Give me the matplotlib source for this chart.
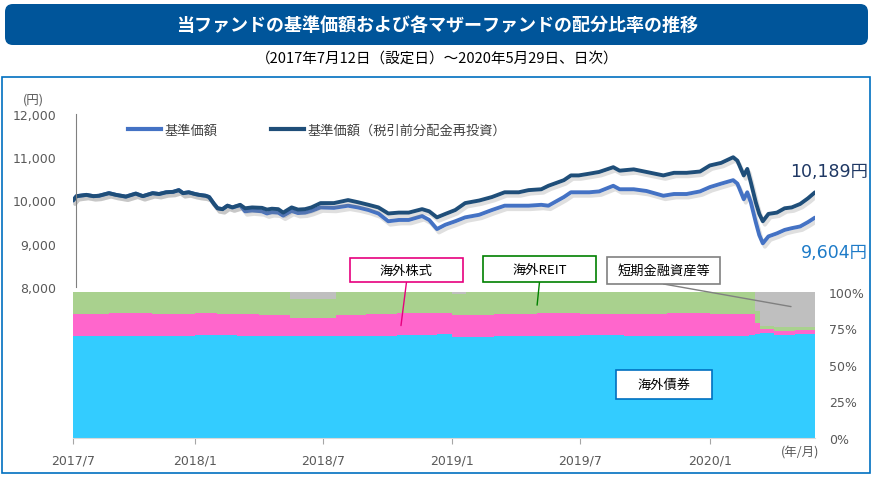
import pandas as pd
import matplotlib.pyplot as plt
import matplotlib.dates as mdates
import matplotlib.patheffects as pe
from matplotlib.patches import FancyBboxPatch, Rectangle, ConnectionPatch
from matplotlib.lines import Line2D

plt.rcParams['font.family'] = ['DejaVu Sans', 'Noto Sans CJK JP']
JP = ['Noto Sans CJK JP', 'DejaVu Sans']

# 基準価額データ（目視で読み取り）
price_dates = [
    '2017-07-12', '2017-07-17', '2017-07-31', '2017-08-10', '2017-08-18', '2017-09-01',
    '2017-09-11', '2017-09-25', '2017-10-09', '2017-10-19', '2017-11-02', '2017-11-11',
    '2017-11-21', '2017-12-01', '2017-12-09', '2017-12-15', '2017-12-23', '2018-01-01',
    '2018-01-07', '2018-01-16', '2018-01-21', '2018-01-28', '2018-02-02', '2018-02-09',
    '2018-02-16', '2018-02-23', '2018-03-06', '2018-03-13', '2018-03-23', '2018-04-06',
    '2018-04-13', '2018-04-20', '2018-04-29', '2018-05-06', '2018-05-18', '2018-05-27',
    '2018-06-06', '2018-06-15', '2018-06-28', '2018-07-17', '2018-08-06', '2018-08-20',
    '2018-09-04', '2018-09-18', '2018-10-02', '2018-10-17', '2018-10-31', '2018-11-19',
    '2018-11-29', '2018-12-10', '2018-12-22', '2019-01-05', '2019-01-19', '2019-02-08',
    '2019-02-26', '2019-03-16', '2019-04-05', '2019-04-19', '2019-05-07', '2019-05-17',
    '2019-06-08', '2019-06-18', '2019-06-29', '2019-07-14', '2019-07-28', '2019-08-17',
    '2019-08-26', '2019-09-15', '2019-10-03', '2019-10-27', '2019-11-11', '2019-11-29',
    '2019-12-18', '2020-01-01', '2020-01-17', '2020-02-03', '2020-02-09', '2020-02-14',
    '2020-02-18', '2020-02-23', '2020-02-28', '2020-03-06', '2020-03-11', '2020-03-16',
    '2020-03-24', '2020-04-05', '2020-04-16', '2020-04-26', '2020-05-08', '2020-05-19',
    '2020-05-29']
nav_reinvest = [
    10000, 10100, 10130, 10100, 10110, 10170,
    10130, 10090, 10160, 10100, 10170, 10150,
    10190, 10200, 10240, 10170, 10190, 10150,
    10130, 10110, 10080, 9920, 9820, 9800,
    9880, 9840, 9900, 9820, 9840, 9830,
    9790, 9810, 9800, 9720, 9840, 9790,
    9800, 9840, 9940, 9940, 10010, 9960,
    9900, 9840, 9700, 9720, 9720, 9800,
    9750, 9610, 9690, 9780, 9940, 10000,
    10080, 10190, 10190, 10240, 10260, 10340,
    10470, 10580, 10580, 10620, 10660, 10770,
    10690, 10720, 10660, 10580, 10640, 10640,
    10670, 10810, 10870, 11000, 10920, 10730,
    10580, 10730, 10420, 9960, 9690, 9520,
    9690, 9720, 9820, 9840, 9920, 10050,
    10189]
nav = [
    10000, 10100, 10130, 10100, 10110, 10170,
    10130, 10090, 10160, 10100, 10170, 10150,
    10190, 10200, 10240, 10170, 10190, 10150,
    10130, 10110, 10080, 9920, 9820, 9800,
    9880, 9840, 9890, 9750, 9770, 9750,
    9700, 9730, 9720, 9650, 9760, 9710,
    9720, 9760, 9840, 9830, 9880, 9840,
    9780, 9700, 9520, 9550, 9550, 9640,
    9550, 9340, 9440, 9520, 9610, 9670,
    9780, 9880, 9880, 9880, 9900, 9880,
    10080, 10190, 10190, 10190, 10210, 10340,
    10260, 10260, 10220, 10110, 10150, 10150,
    10210, 10310, 10390, 10470, 10390, 10190,
    10030, 10190, 9960, 9500, 9200, 9010,
    9170, 9240, 9320, 9360, 9400, 9500,
    9604]

# 配分比率（%）
alloc_dates = [
    '2017-07-12', '2017-09-01', '2017-11-01', '2018-01-01', '2018-02-01', '2018-03-01',
    '2018-04-01', '2018-05-15', '2018-06-15', '2018-07-20', '2018-09-01', '2018-10-15',
    '2018-12-10', '2019-01-01', '2019-01-20', '2019-03-01', '2019-05-01', '2019-07-01',
    '2019-09-01', '2019-11-01', '2020-01-01', '2020-02-25', '2020-03-05', '2020-03-12',
    '2020-04-01', '2020-05-01', '2020-05-29']
bond = [70, 70, 70, 70.5, 70.5, 70, 70, 70, 70, 70, 70, 70.5, 71.5, 69.5, 69.5,
        70, 70, 70.5, 70, 70, 70, 70.5, 71, 72, 70.5, 71, 71]
equity = [15, 15.5, 15, 15, 14.5, 15, 14.5, 12, 12.5, 14, 15, 15, 14, 14.5, 15,
          15, 15.5, 14.5, 15, 15.5, 15, 14.5, 8, 3, 3, 3, 3]
reit = [15, 14.5, 15, 14.5, 15, 15, 15.5, 13, 12.5, 16, 15, 14.5, 14.5, 14.5, 15.5,
        15, 14.5, 15, 15, 14.5, 15, 15, 8, 2, 2.5, 2, 2]
cash = [0, 0, 0, 0, 0, 0, 0, 5, 5, 0, 0, 0, 0, 1.5, 0,
        0, 0, 0, 0, 0, 0, 0, 13, 23, 24, 24, 24]

x_ticks = ['2017-07-12', '2018-01-01', '2018-07-01', '2019-01-01', '2019-07-01', '2020-01-01']
x_labels = ['2017/7', '2018/1', '2018/7', '2019/1', '2019/7', '2020/1']

W, H = 874, 481


def fx(px):
    return px / W


def fy(py):
    return 1 - py / H


fig = plt.figure(figsize=(8.74, 4.81), dpi=100)

# タイトル帯
banner = FancyBboxPatch((fx(5), fy(46)), fx(863), 41 / H,
                        boxstyle='round,pad=0,rounding_size=0.009',
                        mutation_aspect=W / H, transform=fig.transFigure,
                        facecolor='#00559A', edgecolor='none')
fig.add_artist(banner)
fig.text(fx(437), fy(25), '当ファンドの基準価額および各マザーファンドの配分比率の推移',
         color='white', fontsize=13, fontweight='bold', family=JP, ha='center', va='center')
fig.text(fx(437), fy(60), '（2017年7月12日（設定日）～2020年5月29日、日次）',
         color='black', fontsize=10.5, family=JP, ha='center', va='center')

# 外枠
fig.add_artist(Rectangle((fx(2), fy(474)), fx(868), 396 / H, transform=fig.transFigure,
                         fill=False, edgecolor='#0070C0', linewidth=1.2))

pd_price = pd.to_datetime(price_dates)
pd_alloc = pd.to_datetime(alloc_dates)
xmin, xmax = pd.Timestamp('2017-07-12'), pd.Timestamp('2020-05-29')

# 配分比率（下段）
ax2 = fig.add_axes([fx(73), fy(439), fx(742), 146 / H])
ax2.stackplot(pd_alloc, bond, equity, reit, cash,
              colors=['#33CCFF', '#FF66CC', '#A9D18E', '#BFBFBF'], step='post', linewidth=0)
ax2.set_xlim(xmin, xmax)
ax2.set_ylim(0, 100)
ax2.yaxis.tick_right()
ax2.set_yticks([0, 25, 50, 75, 100])
ax2.set_yticklabels(['0%', '25%', '50%', '75%', '100%'])
ax2.set_xticks(pd.to_datetime(x_ticks))
ax2.set_xticklabels(x_labels)
ax2.tick_params(axis='y', length=0, pad=10, labelsize=9, labelcolor='#595959')
ax2.tick_params(axis='x', length=4, width=0.8, color='#A6A6A6', pad=7,
                labelsize=9, labelcolor='#595959')
for s in ['top', 'left', 'right']:
    ax2.spines[s].set_visible(False)
ax2.spines['bottom'].set_color('#D9D9D9')
fig.text(fx(800), fy(453), '(年/月)', fontsize=9, color='#595959', family=JP,
         ha='center', va='center')

# 基準価額（上段）
ax = fig.add_axes([fx(73), fy(288), fx(742), 173 / H])
ax.patch.set_alpha(0)
shadow = [pe.SimpleLineShadow(offset=(1.5, -2.5), shadow_color='#808080', alpha=0.25),
          pe.Normal()]
ax.plot(pd_price, nav, color='#4472C4', linewidth=2.8, path_effects=shadow, solid_capstyle='round')
ax.plot(pd_price, nav_reinvest, color='#1F4E79', linewidth=2.8, path_effects=shadow,
        solid_capstyle='round')
ax.set_xlim(xmin, xmax)
ax.set_ylim(8000, 12000)
ax.set_yticks([8000, 9000, 10000, 11000, 12000])
ax.set_yticklabels(['8,000', '9,000', '10,000', '11,000', '12,000'])
ax.tick_params(axis='y', length=0, pad=14, labelsize=9, labelcolor='#595959')
ax.set_xticks([])
for s in ['top', 'right', 'bottom']:
    ax.spines[s].set_visible(False)
ax.spines['left'].set_color('#808080')
ax.spines['left'].set_position(('outward', -2))
fig.text(fx(33), fy(100), '(円)', fontsize=9, color='#595959', family=JP, ha='center', va='center')

# 凡例
handles = [Line2D([], [], color='#4472C4', linewidth=3),
           Line2D([], [], color='#1F4E79', linewidth=3)]
fig.legend(handles, ['基準価額', '基準価額（税引前分配金再投資）'], loc='center left',
           bbox_to_anchor=(fx(128), fy(131)), bbox_transform=fig.transFigure, ncol=2,
           frameon=False, borderpad=0, borderaxespad=0, handlelength=2.5, handletextpad=0.3,
           columnspacing=4.0, prop={'family': JP, 'size': 9.5}, labelcolor='#404040')

# 最終値ラベル
ax.annotate('10,189円', xy=(pd_price[-1], nav_reinvest[-1]), xytext=(38, 15),
            textcoords='offset points', ha='right', va='center', fontsize=12.5, color='#1F3864')
ax.annotate('9,604円', xy=(pd_price[-1], nav[-1]), xytext=(38, -25),
            textcoords='offset points', ha='right', va='center', fontsize=12.5, color='#1E7BC8')

# 吹き出し
callouts = [
    ('海外株式', (406.5, 271), 113, 24, '#E6007E', ('2018-10-20', 77)),
    ('海外REIT', (539.5, 270), 113, 26, '#008000', ('2019-05-01', 91)),
    ('短期金融資産等', (663.5, 271.5), 113, 27, '#808080', ('2020-04-25', 90)),
    ('海外債券', (664, 385.5), 96, 29, '#0070C0', None),
]
for label, (cx, cy), bw, bh, col, target in callouts:
    fig.add_artist(Rectangle((fx(cx - bw / 2), fy(cy + bh / 2)), fx(bw), bh / H,
                             transform=fig.transFigure, facecolor='white', edgecolor=col,
                             linewidth=1.2, zorder=5))
    fig.text(fx(cx), fy(cy), label, fontsize=9.5, family=JP, color='black',
             ha='center', va='center', zorder=6)
    if target is not None:
        con = ConnectionPatch(xyA=(fx(cx), fy(cy + bh / 2)), coordsA=fig.transFigure,
                              xyB=(mdates.date2num(pd.Timestamp(target[0])), target[1]),
                              coordsB=ax2.transData, color=col, linewidth=1)
        fig.add_artist(con)

plt.savefig('out.png', dpi=100)
